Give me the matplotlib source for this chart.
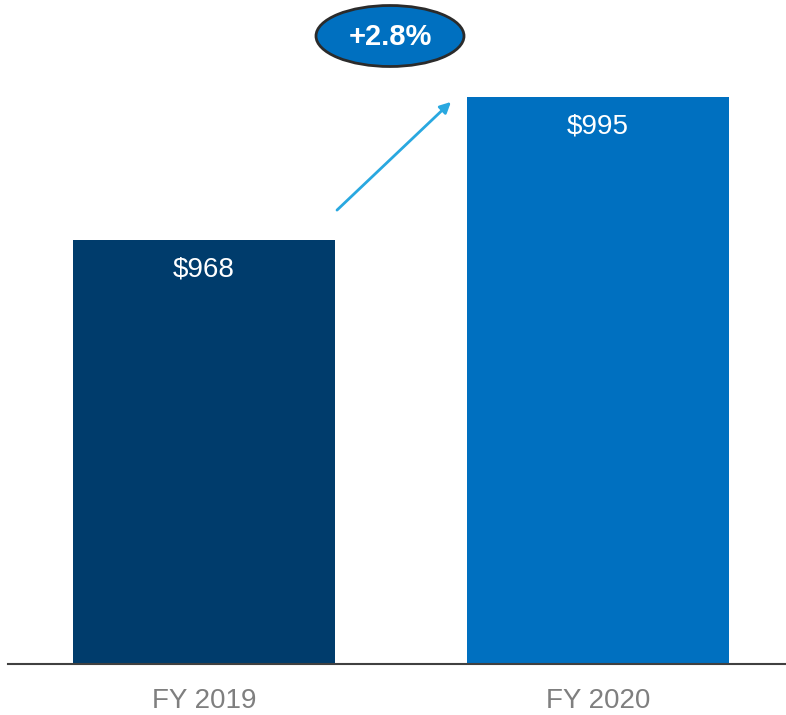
import matplotlib
matplotlib.use("Agg")
import matplotlib.pyplot as plt
from matplotlib.patches import Ellipse, FancyArrowPatch

plt.rcParams['font.family'] = ['Liberation Sans', 'DejaVu Sans']

# Data
years = ["FY 2019", "FY 2020"]
revenue = [968, 995]
value_labels = ["$968", "$995"]
growth_label = "+2.8%"

bar_colors = ["#003C6C", "#0070C0"]

fig = plt.figure(figsize=(7.86, 7.15), dpi=100)
ax = fig.add_axes([8 / 786, 51 / 715, 777 / 786, 664 / 715])

x = list(range(len(years)))
bars = ax.bar(x, revenue, width=0.665, color=bar_colors, bottom=0)

ax.set_xlim(-0.4975, 1.4746)
ax.set_ylim(888, 1013.4)

for xi, val, lab in zip(x, revenue, value_labels):
    ax.annotate(lab, (xi, val), xytext=(0, -21), textcoords="offset points",
                ha="center", va="center", color="white", fontsize=20)

ax.set_xticks(x)
ax.set_xticklabels(years, fontsize=20, color="#7F7F7F")
ax.tick_params(axis="x", length=0, pad=17)
ax.set_yticks([])
for side in ["top", "right", "left"]:
    ax.spines[side].set_visible(False)
ax.spines["bottom"].set_color("#404040")
ax.spines["bottom"].set_linewidth(1.5)

# Growth arrow and badge
arrow = FancyArrowPatch((335 / 786, 1 - 212 / 715), (453 / 786, 1 - 100 / 715),
                        transform=fig.transFigure, arrowstyle="-|>",
                        mutation_scale=16, color="#29A8E0", linewidth=2)
fig.add_artist(arrow)

badge = Ellipse((390 / 786, 1 - 36 / 715), 148 / 786, 61 / 715,
                transform=fig.transFigure, facecolor="#0070C0",
                edgecolor="#2B2B2B", linewidth=2)
fig.add_artist(badge)
fig.text(390 / 786, 1 - 37 / 715, growth_label, ha="center", va="center",
         color="white", fontsize=21, fontweight="bold")

fig.savefig("out.png", dpi=100)
